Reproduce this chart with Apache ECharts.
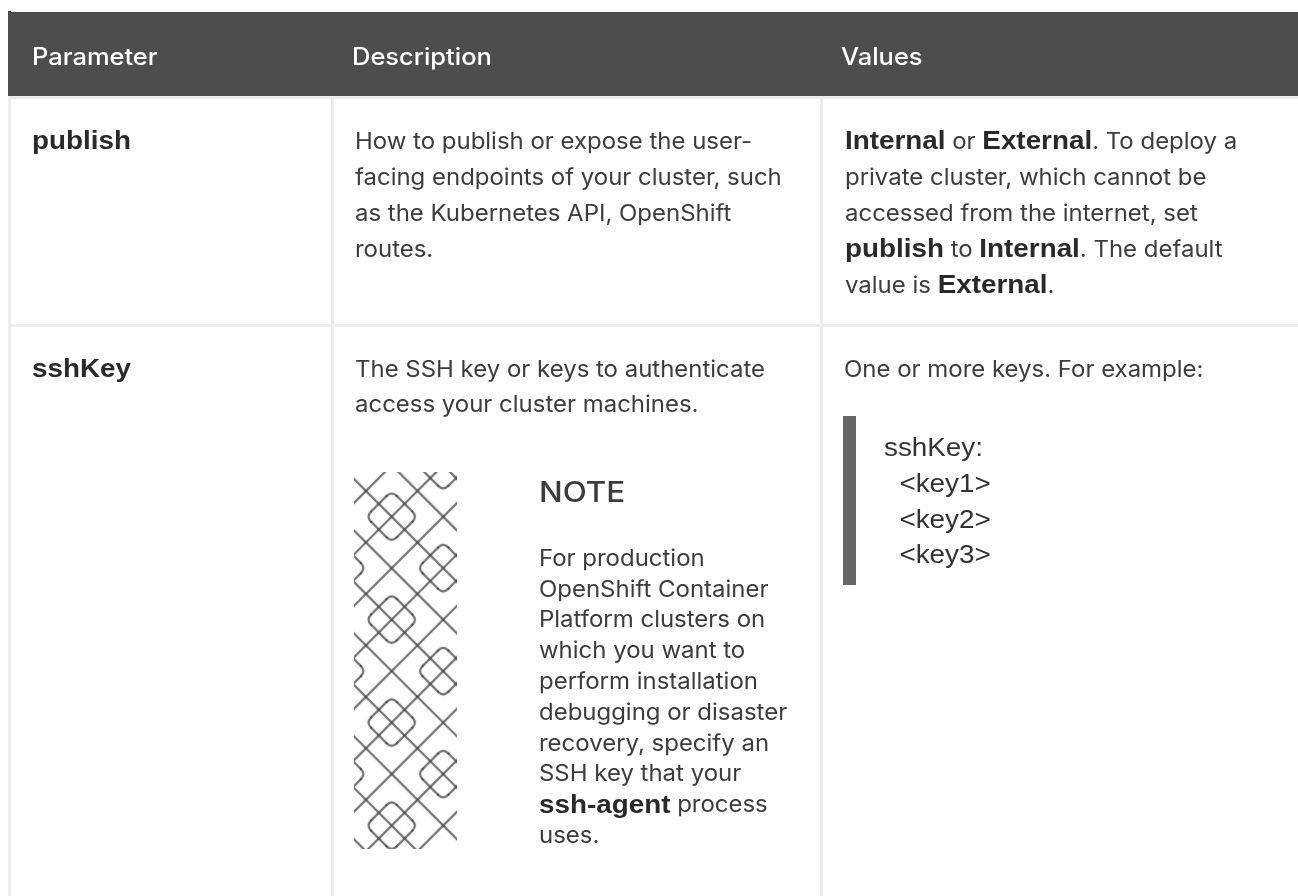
<!DOCTYPE html>
<html>
<head>
<meta charset="utf-8">
<title>install config parameters</title>
<script src="https://cdn.jsdelivr.net/npm/echarts@6/dist/echarts.min.js"></script>
<style>
  html, body { margin: 0; padding: 0; background: #fff; }
  #table { width: 1298px; height: 896px; }
</style>
</head>
<body>
<div id="table"></div>
<script>
// table text, {b|..} marks the bold bits
var headers = ['Parameter', 'Description', 'Values'];
var paramNames = ['publish', 'sshKey'];
var publishDesc = [
  'How to publish or expose the user-',
  'facing endpoints of your cluster, such',
  'as the Kubernetes API, OpenShift',
  'routes.'
];
var publishValues = [
  '{b|Internal} or {b|External}. To deploy a',
  'private cluster, which cannot be',
  'accessed from the internet, set',
  '{b|publish} to {b|Internal}. The default',
  'value is {b|External}.'
];
var sshDesc = ['The SSH key or keys to authenticate', 'access your cluster machines.'];
var noteTitle = 'NOTE';
var noteLines = [
  'For production',
  'OpenShift Container',
  'Platform clusters on',
  'which you want to',
  'perform installation',
  'debugging or disaster',
  'recovery, specify an',
  'SSH key that your',
  '{b|ssh-agent} process',
  'uses.'
];
var sshValues = 'One or more keys. For example:';
var codeLines = ['sshKey:', '  <key1>', '  <key2>', '  <key3>'];

// note icon pattern, in lattice units
var diagOffsets = [-28, -24, -20, -16, -12, -8, -4, 0, 4, 8];
var antiOffsets = [2, 6, 10, 14, 18, 22, 26, 30, 34, 38];
var diamondCenters = [
  [-1, 7], [-1, 15], [-1, 23],
  [3, 3], [3, 11], [3, 19], [3, 27],
  [7, -1], [7, 7], [7, 15], [7, 23], [7, 31]
];

// [x1, y1, x2, y2, ctrlX, ctrlY], null ctrl means a straight piece
var iconSegs = [];
diagOffsets.forEach(function (d) {
  iconSegs.push([-2, -2 - d, 10, 10 - d, null, null]);
});
antiOffsets.forEach(function (s) {
  iconSegs.push([-2, s + 2, 10, s - 10, null, null]);
});
var R = 0.4; // corner rounding of the small diamonds
diamondCenters.forEach(function (c) {
  var x = c[0], y = c[1];
  iconSegs.push([x + R, y - 2 + R, x + 2 - R, y - R, null, null]);
  iconSegs.push([x + 2 - R, y + R, x + R, y + 2 - R, null, null]);
  iconSegs.push([x - R, y + 2 - R, x - 2 + R, y + R, null, null]);
  iconSegs.push([x - 2 + R, y - R, x - R, y - 2 + R, null, null]);
  iconSegs.push([x - R, y - 2 + R, x + R, y - 2 + R, x, y - 2]);
  iconSegs.push([x + 2 - R, y - R, x + 2 - R, y + R, x + 2, y]);
  iconSegs.push([x + R, y + 2 - R, x - R, y + 2 - R, x, y + 2]);
  iconSegs.push([x - 2 + R, y + R, x - 2 + R, y - R, x - 2, y]);
});

var REG = 'Inter';
var BOLD = '"Liberation Sans"';
var REG_SIZE = 22.4;
var BOLD_SIZE = 26;
var TEXT_COLOR = '#3c3c3c';
var SX = 1.07;

var richStyles = {
  b: { fontFamily: BOLD, fontWeight: 'bold', fontSize: BOLD_SIZE, fill: '#2a2a2a', lineHeight: 30 },
  r: { fontFamily: REG, fontSize: REG_SIZE, fill: TEXT_COLOR, lineHeight: 30 }
};

var elements = [];

function rect(x, y, w, h, color) {
  elements.push({ type: 'rect', shape: { x: x, y: y, width: w, height: h }, style: { fill: color }, silent: true });
}

// y is the baseline
function label(str, x, y, opts) {
  opts = opts || {};
  var size = opts.size || REG_SIZE;
  var parts = str.split(/(\{b\|[^}]*\})/).filter(Boolean).map(function (p) {
    return p.indexOf('{b|') === 0 ? p : '{r|' + p + '}';
  }).join('');
  var style = { x: 0, y: 0, verticalAlign: 'middle', align: 'left' };
  if (opts.plain) {
    style.text = str;
    style.font = (opts.weight || 'normal') + ' ' + size + 'px ' + (opts.family || REG);
    style.fill = opts.color || TEXT_COLOR;
  } else {
    style.text = parts;
    style.rich = richStyles;
    style.fill = TEXT_COLOR;
  }
  elements.push({
    type: 'text',
    x: x,
    y: y - (opts.up || 8),
    scaleX: opts.sx || SX,
    silent: true,
    style: style
  });
}

// table frame
rect(8, 11, 3, 885, '#ededed');
rect(331, 96, 3, 800, '#ededed');
rect(820, 96, 3, 800, '#ededed');
rect(8, 96, 1290, 3, '#ededed');
rect(8, 324, 1290, 3, '#ededed');
rect(8, 12, 1290, 84, '#4d4d4d');
rect(8, 11, 3, 1, '#333333');

// header row
var headOpts = { plain: true, color: '#ffffff', weight: '500', size: 23.8 };
label(headers[0], 32, 66, headOpts);
label(headers[1], 352, 66, headOpts);
label(headers[2], 841, 66, headOpts);

// publish row
var nameOpts = { plain: true, family: BOLD, weight: 'bold', size: BOLD_SIZE, color: '#2a2a2a' };
label(paramNames[0], 32, 150, nameOpts);
publishDesc.forEach(function (t, i) { label(t, 355, 150 + i * 36); });
publishValues.forEach(function (t, i) { label(t, 845, 150 + i * 36); });

// sshKey row
label(paramNames[1], 32, 378, nameOpts);
sshDesc.forEach(function (t, i) { label(t, 355, 378 + i * 35.5); });
label(sshValues, 844, 378);

label(noteTitle, 539, 503, { plain: true, size: 28, weight: '500', sx: 1.12, up: 9 });
noteLines.forEach(function (t, i) { label(t, 539, 567 + i * 30.8); });

rect(843, 416, 13, 169, '#666666');
codeLines.forEach(function (t, i) {
  label(t, 884, 457 + i * 35.7, { plain: true, family: BOLD, size: 26, color: '#333333' });
});

var chart = echarts.init(document.getElementById('table'), null, { renderer: 'canvas' });
chart.setOption({
  animation: false,
  backgroundColor: '#ffffff',
  // grid maps the pattern's lattice onto the icon box and clips it
  grid: { left: 354, top: 472, width: 103, height: 377 },
  xAxis: { type: 'value', min: 0.07, max: 8.07, show: false },
  yAxis: { type: 'value', min: -0.47, max: 28.82, inverse: true, show: false },
  series: [{
    type: 'custom',
    coordinateSystem: 'cartesian2d',
    clip: true,
    silent: true,
    dimensions: ['x1', 'y1', 'x2', 'y2', 'cx', 'cy'],
    data: iconSegs,
    encode: { x: [0, 2], y: [1, 3] },
    renderItem: function (params, api) {
      var a = api.coord([api.value(0), api.value(1)]);
      var b = api.coord([api.value(2), api.value(3)]);
      var style = { stroke: 'rgba(60,60,60,0.62)', fill: null, lineWidth: 2.1, lineCap: 'round', shadowBlur: 2, shadowColor: 'rgba(60,60,60,0.45)' };
      var cx = api.value(4);
      if (!isNaN(cx)) {
        var c = api.coord([cx, api.value(5)]);
        return {
          type: 'bezierCurve',
          shape: { x1: a[0], y1: a[1], x2: b[0], y2: b[1], cpx1: c[0], cpy1: c[1] },
          style: style
        };
      }
      return {
        type: 'line',
        shape: { x1: a[0], y1: a[1], x2: b[0], y2: b[1] },
        style: style
      };
    }
  }],
  graphic: { elements: elements }
});
</script>
</body>
</html>
